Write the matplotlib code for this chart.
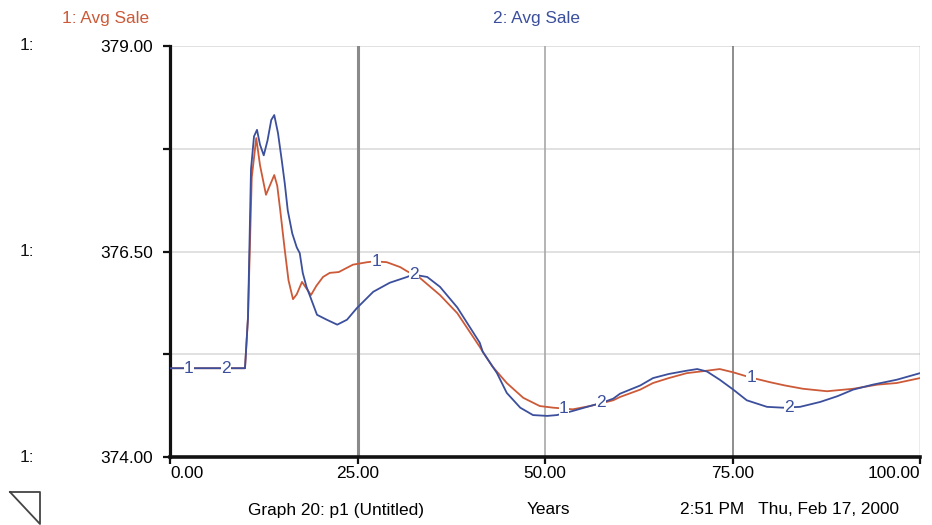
import numpy as np
import matplotlib
matplotlib.use("Agg")
import matplotlib.pyplot as plt
from matplotlib.lines import Line2D

plt.rcParams['font.family'] = ['Liberation Sans', 'DejaVu Sans']

# Series 1: Avg Sale (run 1)
years_1 = [0, 10.0, 10.4, 10.9, 11.5, 12.0, 12.8, 13.3, 13.9, 14.3,
           14.7, 15.3, 15.8, 16.4, 16.9, 17.6, 18.2, 18.8, 19.5, 20.4,
           21.3, 22.5, 24.4, 26.3, 27.3, 28.9, 30.7, 31.6, 33.3, 36.0,
           38.3, 41.3, 41.7, 43.0, 44.9, 47.1, 49.3, 51.1, 52.4, 53.7,
           56.0, 59.1, 60.0, 62.7, 64.4, 66.5, 68.9, 71.6, 73.3, 75.1,
           77.3, 80.0, 82.0, 84.4, 87.6, 91.1, 94.3, 96.9, 100]
avg_sale_1 = [375.08, 375.08, 375.7, 377.4, 377.88, 377.55, 377.19, 377.3, 377.43, 377.3,
              377.0, 376.52, 376.15, 375.92, 375.98, 376.13, 376.05, 375.97, 376.08, 376.19,
              376.24, 376.25, 376.34, 376.37, 376.38, 376.37, 376.31, 376.26, 376.18, 375.97,
              375.75, 375.34, 375.28, 375.10, 374.90, 374.72, 374.62, 374.60, 374.59, 374.58,
              374.62, 374.69, 374.73, 374.82, 374.90, 374.96, 375.02, 375.05, 375.07, 375.03,
              374.97, 374.91, 374.87, 374.83, 374.80, 374.83, 374.88, 374.90, 374.96]

# Series 2: Avg Sale (run 2)
years_2 = [0, 10.0, 10.4, 10.8, 11.2, 11.6, 12.0, 12.5, 13.0, 13.5,
           13.9, 14.4, 14.9, 15.3, 15.7, 16.3, 16.9, 17.3, 17.7, 18.2,
           18.7, 19.6, 20.9, 22.3, 23.6, 24.9, 27.1, 29.3, 31.6, 32.4,
           34.3, 36.0, 38.3, 41.3, 41.7, 43.6, 44.9, 46.7, 48.4, 50.3,
           51.6, 53.7, 56.0, 57.6, 59.1, 60.0, 62.7, 64.4, 66.5, 68.9,
           70.3, 71.6, 73.3, 75.1, 76.9, 79.6, 81.7, 84.0, 86.7, 89.0,
           91.1, 93.7, 96.9, 100]
avg_sale_2 = [375.08, 375.08, 375.7, 377.5, 377.9, 377.98, 377.8, 377.67, 377.85, 378.1,
              378.16, 377.94, 377.61, 377.33, 377.0, 376.72, 376.55, 376.48, 376.24, 376.07,
              375.95, 375.73, 375.67, 375.61, 375.67, 375.81, 376.01, 376.12, 376.19, 376.22,
              376.19, 376.07, 375.82, 375.39, 375.28, 375.02, 374.78, 374.60, 374.51, 374.50,
              374.51, 374.56, 374.62, 374.66, 374.71, 374.77, 374.87, 374.96, 375.01, 375.05,
              375.07, 375.04, 374.94, 374.82, 374.69, 374.61, 374.60, 374.61, 374.67, 374.74,
              374.82, 374.88, 374.94, 375.02]

# Where the curve number markers sit
marker_years_1 = [2.5, 27.5, 52.5, 77.5]
marker_years_2 = [7.5, 32.5, 57.5, 82.5]

x_ticks = [0, 25, 50, 75, 100]
x_tick_labels = ["0.00", "25.00", "50.00", "75.00", "100.00"]
y_ticks = [374.0, 375.25, 376.5, 377.75, 379.0]
y_tick_labels = ["374.00", "", "376.50", "", "379.00"]

ORANGE = "#cc5a38"
BLUE = "#3b4f9c"
FS = 12.4

W, H = 932, 525
fig = plt.figure(figsize=(W / 100, H / 100), dpi=100)
ax = fig.add_axes([170 / W, 1 - 457 / H, (920 - 170) / W, (457 - 46) / H])

ax.set_xlim(0, 100)
ax.set_ylim(374, 379)

# grid
for yv in [375.25, 376.5, 377.75, 379.0]:
    ax.axhline(yv, color="#dedede", lw=1.3, zorder=0)
ax.axvline(25, color="#8a8a8a", lw=2.2, zorder=0)
ax.axvline(50, color="#a8a8a8", lw=1.2, zorder=0)
ax.axvline(75, color="#7a7a7a", lw=1.2, zorder=0)
ax.axvline(100, color="#9a9a9a", lw=1.0, zorder=0)

ax.plot(years_1, avg_sale_1, color=ORANGE, lw=1.3, zorder=2)
ax.plot(years_2, avg_sale_2, color=BLUE, lw=1.3, zorder=3)

for yr in marker_years_1:
    ax.text(yr, np.interp(yr, years_1, avg_sale_1), "1", color=BLUE, fontsize=FS,
            ha="center", va="center", zorder=4,
            bbox=dict(facecolor="white", edgecolor="none", pad=0.3))
for yr in marker_years_2:
    ax.text(yr, np.interp(yr, years_2, avg_sale_2), "2", color=BLUE, fontsize=FS,
            ha="center", va="center", zorder=4,
            bbox=dict(facecolor="white", edgecolor="none", pad=0.3))

for side in ["top", "right"]:
    ax.spines[side].set_visible(False)
ax.spines["left"].set_linewidth(2.3)
ax.spines["bottom"].set_linewidth(2.6)
ax.spines["left"].set_color("#111111")
ax.spines["bottom"].set_color("#111111")

ax.set_xticks(x_ticks)
ax.set_xticklabels(x_tick_labels, fontsize=FS)
xl = ax.get_xticklabels()
xl[0].set_ha("left")
xl[-1].set_ha("right")
ax.set_yticks(y_ticks)
ax.set_yticklabels(y_tick_labels, fontsize=FS)
ax.tick_params(axis="both", direction="out", length=5, width=1.6, color="#111111")
ax.tick_params(axis="y", pad=7)
ax.tick_params(axis="x", pad=1.5)

# series labels and axis series ids
fig.text(62 / W, 1 - 18 / H, "1: Avg Sale", color=ORANGE, fontsize=FS, ha="left", va="center")
fig.text(493 / W, 1 - 18 / H, "2: Avg Sale", color=BLUE, fontsize=FS, ha="left", va="center")
for yp in [46, 251, 457]:
    fig.text(20 / W, 1 - yp / H, "1:", color="#111111", fontsize=FS, ha="left", va="center")

# footer
fig.text(248 / W, 1 - 510 / H, "Graph 20: p1 (Untitled)", fontsize=FS, ha="left", va="center")
fig.text(527 / W, 1 - 510 / H, "Years", fontsize=FS, ha="left", va="center")
fig.text(680 / W, 1 - 510 / H, "2:51 PM   Thu, Feb 17, 2000", fontsize=FS, ha="left", va="center")

# page-turn icon
tri_x = np.array([10, 40, 40, 10]) / W
tri_y = 1 - np.array([492, 492, 524, 492]) / H
fig.add_artist(Line2D(tri_x, tri_y, color="#444444", lw=1.3, transform=fig.transFigure))

fig.savefig("out.png", dpi=100)
